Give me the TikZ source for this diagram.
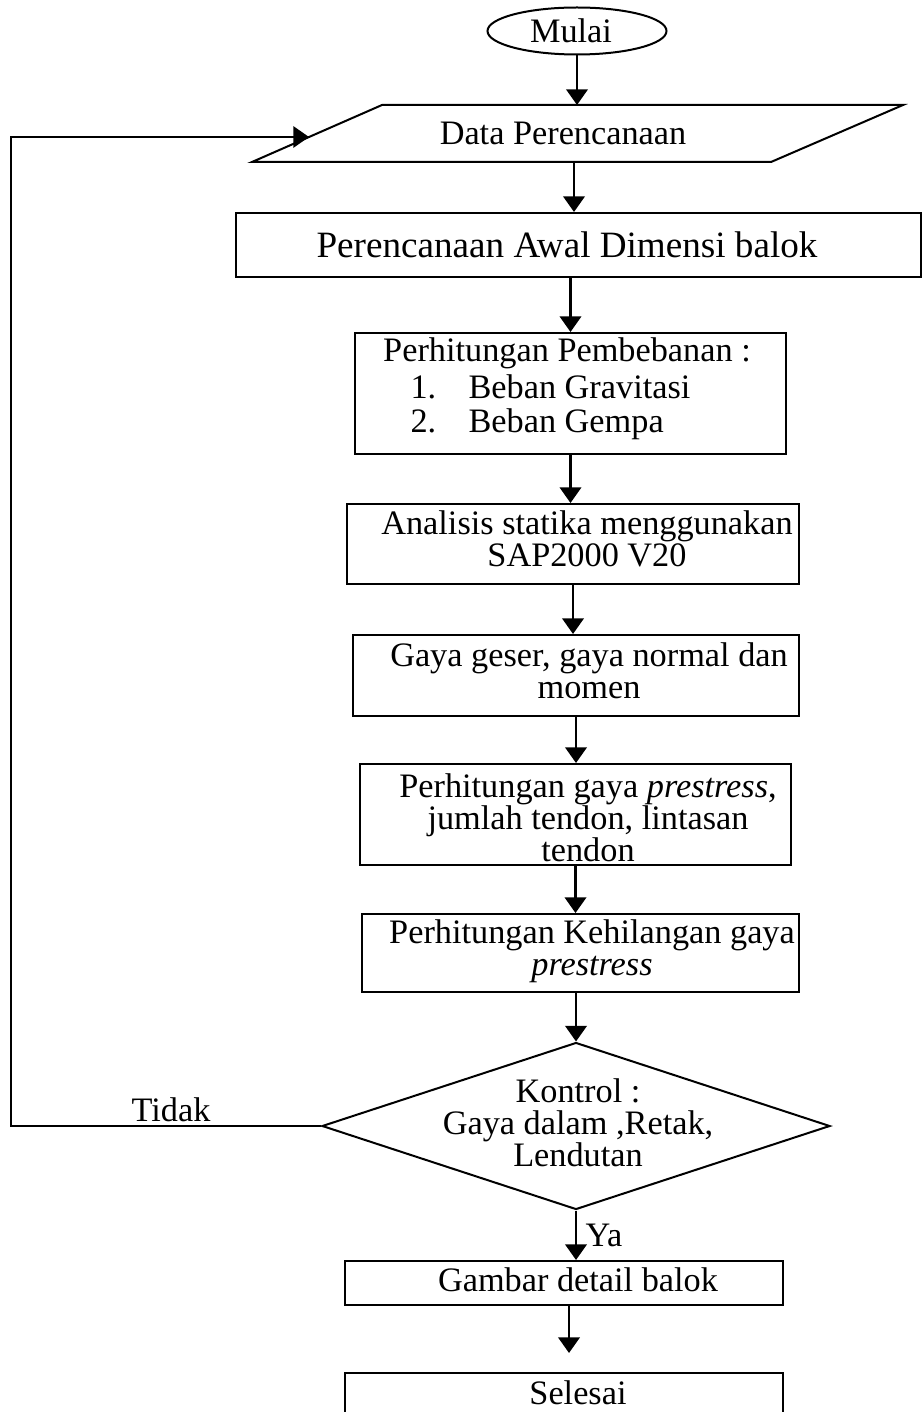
\documentclass[tikz,border=0pt]{standalone}
\usepackage{fontspec}
\setmainfont{Liberation Serif}
\usetikzlibrary{shapes.geometric,arrows.meta}
\tikzset{
  flowbox/.style={draw,line width=0.7pt,inner sep=0pt},
  flowtext/.style={align=center,font=\fontsize{12}{11.2}\selectfont,inner sep=0pt},
  flowarrow/.style={line width=0.95pt,-{Triangle[width=7.5pt,length=5.5pt]}}
}
\begin{document}
\begin{tikzpicture}[x=0.35pt,y=-0.35pt]
\path[use as bounding box] (0,0) rectangle (923,1412);
\clip (0,0) rectangle (923,1412);
% start
\node[flowbox,ellipse,minimum width=62.65pt,minimum height=16.45pt] (mulai) at (577,31) {};
\node[flowtext] (mulaiText) at (571,31) {Mulai};
% input data
\draw[line width=0.7pt] (382,105) -- (903,105) -- (771,162) -- (252,162) -- cycle;
\coordinate (dataT) at (577,105);
\coordinate (dataB) at (574,162);
\coordinate (dataL) at (309,137);
\node[flowtext] (dataText) at (563,133) {Data Perencanaan};
% process boxes
\node[flowbox,minimum width=239.75pt,minimum height=22.4pt] (awal) at (578.5,245) {};
\node[flowtext,font=\fontsize{13}{13}\selectfont] (awalText) at (567,245) {Perencanaan Awal Dimensi balok};
\node[flowbox,minimum width=150.85pt,minimum height=42.35pt] (beban) at (570.5,393.5) {};
\node[flowtext] (bebanHead) at (567,353) {Perhitungan Pembebanan :};
\node[flowtext,anchor=west,align=left] (bebanList) at (410,408.5) {\begin{tabular}{@{}p{20.3pt}@{}l@{}}1. & Beban Gravitasi\\ 2. & Beban Gempa\end{tabular}};
\node[flowbox,minimum width=158.2pt,minimum height=28pt] (sap) at (573,544) {};
\node[flowtext] (sapText) at (587,538.5) {Analisis statika menggunakan\\ SAP2000 V20};
\node[flowbox,minimum width=156.1pt,minimum height=28.35pt] (gaya) at (576,675.5) {};
\node[flowtext] (gayaText) at (589,671) {Gaya geser, gaya normal dan\\ momen};
\node[flowbox,minimum width=150.85pt,minimum height=35.35pt] (tendon) at (575.5,814.5) {};
\node[flowtext] (tendonText) at (588,818) {Perhitungan gaya \textit{prestress},\\ jumlah tendon, lintasan\\ tendon};
\node[flowbox,minimum width=152.95pt,minimum height=27.3pt] (hilang) at (580.5,953) {};
\node[flowtext] (hilangText) at (592,951) {Perhitungan Kehilangan gaya\\ \textit{prestress}};
% decision
\node[flowbox,diamond,minimum width=177.8pt,minimum height=58.45pt] (kontrol) at (576,1126) {};
\node[flowtext] (kontrolText) at (578,1123) {Kontrol :\\ Gaya dalam ,Retak,\\ Lendutan};
\node[flowbox,minimum width=153.3pt,minimum height=15.4pt] (detail) at (564,1283) {};
\node[flowtext] (detailText) at (578,1280) {Gambar detail balok};
\node[flowbox,minimum width=153.3pt,minimum height=16.45pt] (selesai) at (564,1396.5) {};
\node[flowtext] (selesaiText) at (578,1393) {Selesai};
% connectors
\draw[flowarrow] (mulai) -- (dataT);
\draw[flowarrow] (dataB) -- (dataB |- awal.north);
\draw[flowarrow] (beban.north |- awal.south) -- (beban.north);
\draw[flowarrow] (beban.south) -- (beban.south |- sap.north);
\draw[flowarrow] (sap.south) -- (sap.south |- gaya.north);
\draw[flowarrow] (gaya.south) -- (gaya.south |- tendon.north);
\draw[flowarrow] (tendon.south) -- (tendon.south |- hilang.north);
\draw[flowarrow] (kontrol.north |- hilang.south) -- (kontrol.north);
\draw[flowarrow] (kontrol.south) -- (kontrol.south |- detail.north);
\draw[flowarrow,shorten >=6.65pt] ([xshift=1.75pt]detail.south) -- ([xshift=1.75pt]detail.south |- selesai.north);
\coordinate (balik) at (11,137);
\draw[flowarrow,line width=0.7pt] (kontrol.west) -| (balik) -- (dataL);
% labels
\node[flowtext] (tidak) at (171,1110) {Tidak};
\node[flowtext] (ya) at (604,1235) {Ya};
\end{tikzpicture}
\end{document}
